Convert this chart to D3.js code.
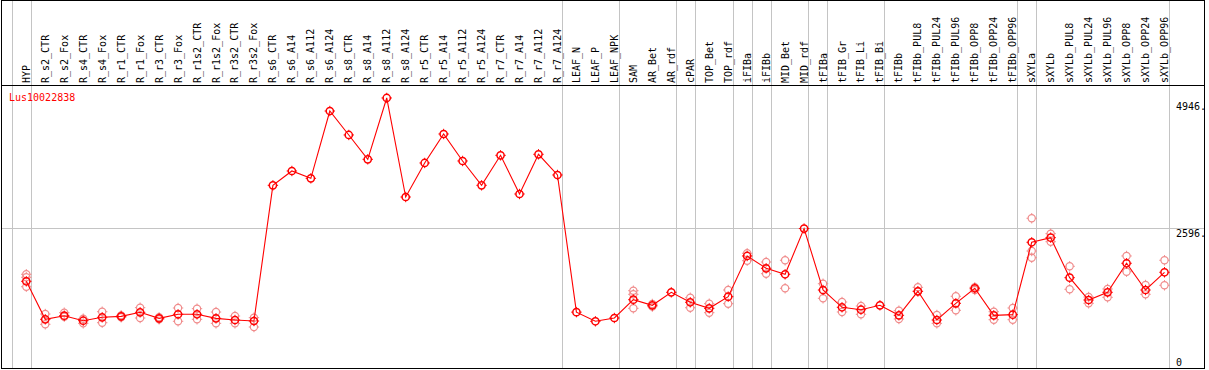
<!DOCTYPE html>
<html>
<head>
<meta charset="utf-8">
<script src="https://cdn.jsdelivr.net/npm/d3@7"></script>
<style>
  body { margin: 0; background: #fff; }
  svg { display: block; }
  text { font-family: "DejaVu Sans Mono", monospace; font-size: 10px; }
</style>
</head>
<body>
<svg id="chart" width="1209" height="370"></svg>
<script>
const title = "Lus10022838";
const categories = ["HYP","R_s2_CTR","R_s2_Fox","R_s4_CTR","R_s4_Fox","R_r1_CTR","R_r1_Fox","R_r3_CTR","R_r3_Fox","R_r1s2_CTR","R_r1s2_Fox","R_r3s2_CTR","R_r3s2_Fox","R_s6_CTR","R_s6_A14","R_s6_A112","R_s6_A124","R_s8_CTR","R_s8_A14","R_s8_A112","R_s8_A124","R_r5_CTR","R_r5_A14","R_r5_A112","R_r5_A124","R_r7_CTR","R_r7_A14","R_r7_A112","R_r7_A124","LEAF_N","LEAF_P","LEAF_NPK","SAM","AR_Bet","AR_rdf","cPAR","TOP_Bet","TOP_rdf","iFIBa","iFIBb","MID_Bet","MID_rdf","tFIBa","tFIB_Gr","tFIB_Li","tFIB_Bi","tFIBb","tFIBb_PUL8","tFIBb_PUL24","tFIBb_PUL96","tFIBb_OPP8","tFIBb_OPP24","tFIBb_OPP96","sXYLa","sXYLb","sXYLb_PUL8","sXYLb_PUL24","sXYLb_PUL96","sXYLb_OPP8","sXYLb_OPP24","sXYLb_OPP96"];
const means = [1601,895,962,869,932,950,1025,913,988,988,913,882,863,3383,3649,3513,4763,4318,3866,5005,3166,3798,4336,3835,3383,3940,3222,3959,3575,1028,858,919,1259,1155,1396,1211,1099,1315,2071,1842,1731,2580,1439,1118,1073,1155,969,1415,882,1192,1471,969,981,2325,2411,1668,1253,1396,1935,1439,1768];
const replicates = [[1731,1675,1500],[993,802],[1018,943],[906,820],[1036,832],[968,932],[1111,919],[932,895],[1105,858],[1092,895],[1030,820],[956,820],[925,752],[],[],[],[],[],[],[],[],[],[],[],[],[],[],[],[],[],[],[],[1426,1359,1099],[1180,1130],[],[1296,1110],[1185,1018],[1439,1185],[2121,1983],[1959,1742],[1991,1471],[],[1556,1285],[1216,1031],[1142,988],[],[1055,901],[1489,1415],[975,820],[1322,1062],[1489,1440],[1036,888],[1105,888],[2771,2163,2039],[2485,2336],[1879,1452],[1309,1192],[1458,1303],[2071,1779],[1532,1359],[1991,1526]];
const groupEnds = ["HYP","R_r7_A124","LEAF_NPK","AR_rdf","cPAR","TOP_rdf","iFIBa","iFIBb","MID_rdf","tFIBa","tFIB_Bi","tFIBb_OPP96","sXYLa","sXYLb_OPP96"];
const yTicks = [0, 2596, 4946];

(function () {
const svg = d3.select("#chart");
const W = 1209, H = 370;
const left = 1.5, right = 1204.5, topY = 0.5, bottomY = 368.5, headerY = 85.5;
const step = 18.97;
const x = d3.scalePoint().domain(categories).range([26.3, 26.3 + step * (categories.length - 1)]);
const y = d3.scaleLinear().domain([0, 2596]).range([367.5, 227.7]);

svg.append("rect").attr("width", W).attr("height", H).attr("fill", "#fff");

// vertical group grid lines
const gx = [x(categories[0]) - step + 4.4].concat(groupEnds.map(c => x(c) + 4.4));
svg.selectAll("line.vg").data(gx).join("line")
  .attr("x1", d => Math.round(d) + 0.5).attr("x2", d => Math.round(d) + 0.5)
  .attr("y1", topY).attr("y2", bottomY)
  .attr("stroke", "#c4c4c4").attr("stroke-width", 1);

// horizontal grid line at middle tick
svg.append("line")
  .attr("x1", left).attr("x2", right)
  .attr("y1", Math.round(y(2596)) + 0.5).attr("y2", Math.round(y(2596)) + 0.5)
  .attr("stroke", "#c4c4c4");

// frame
svg.append("rect").attr("x", left).attr("y", topY).attr("width", right - left).attr("height", bottomY - topY)
  .attr("fill", "none").attr("stroke", "#000").attr("stroke-width", 1);
svg.append("line").attr("x1", left).attr("x2", right).attr("y1", headerY).attr("y2", headerY)
  .attr("stroke", "#000");

// column labels
svg.selectAll("text.cl").data(categories).join("text")
  .attr("class", "cl")
  .attr("transform", d => `translate(${x(d)},83) rotate(-90)`)
  .attr("dy", "0.35em")
  .attr("fill", "#000")
  .text(d => d);

// y tick labels
svg.selectAll("text.yt").data(yTicks).join("text")
  .attr("x", 1176)
  .attr("y", d => Math.min(y(d) + 9, 366))
  .attr("fill", "#000")
  .text(d => d === 0 ? "0" : d + ".");

// title
svg.append("text").attr("x", 9).attr("y", 101).attr("fill", "#ff0000").text(title);

function marker(g, cx, cy, color, sw) {
  const r = 3.6;
  g.append("circle").attr("cx", cx).attr("cy", cy).attr("r", r)
    .attr("fill", "none").attr("stroke", color).attr("stroke-width", sw);
  [[0,-1],[0,1],[-1,0],[1,0]].forEach(([dx, dy]) => {
    g.append("line")
      .attr("x1", cx + dx * r).attr("y1", cy + dy * r)
      .attr("x2", cx + dx * (r + 1.6)).attr("y2", cy + dy * (r + 1.6))
      .attr("stroke", color).attr("stroke-width", 1);
  });
}

// replicate points
const repG = svg.append("g");
categories.forEach((c, i) => {
  replicates[i].forEach(v => marker(repG, x(c), y(v), "#f08c8c", 1.2));
});

// mean line
const line = d3.line().x((d, i) => x(categories[i])).y(d => y(d));
svg.append("path").datum(means).attr("d", line)
  .attr("fill", "none").attr("stroke", "#ff0000").attr("stroke-width", 1.1);

// mean points
const mG = svg.append("g");
means.forEach((v, i) => marker(mG, x(categories[i]), y(v), "#ff0000", 1.5));
})();
</script>
</body>
</html>
